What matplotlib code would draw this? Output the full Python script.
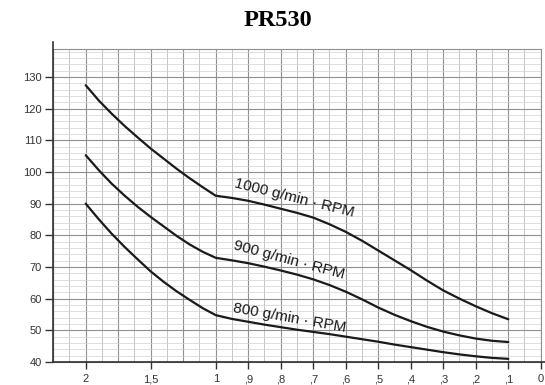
import numpy as np
import matplotlib
matplotlib.use("Agg")
import matplotlib.pyplot as plt
from matplotlib.ticker import MultipleLocator

# ---- data ----
x_vals = [2.0, 1.9, 1.8, 1.7, 1.6, 1.5, 1.4, 1.3, 1.2, 1.1,
          1.0, 0.95, 0.9, 0.85, 0.8, 0.75, 0.7, 0.65, 0.6, 0.55,
          0.5, 0.45, 0.4, 0.35, 0.3, 0.25, 0.2, 0.15, 0.1]
rpm1000 = [127.4, 122.6, 118.4, 114.5, 110.9, 107.4, 104.2, 101.0, 98.0, 95.2,
           92.5, 91.8, 90.9, 89.7, 88.4, 87.1, 85.6, 83.5, 81.1, 78.3,
           75.2, 72.1, 69.0, 65.7, 62.6, 60.0, 57.6, 55.4, 53.5]
rpm900 = [105.3, 100.6, 96.3, 92.5, 89.0, 85.8, 82.8, 79.8, 77.1, 74.8,
          72.9, 72.1, 71.2, 70.1, 68.9, 67.6, 66.1, 64.3, 62.2, 59.8,
          57.2, 54.9, 52.9, 51.1, 49.6, 48.4, 47.4, 46.7, 46.3]
rpm800 = [90.0, 85.1, 80.5, 76.3, 72.4, 68.6, 65.3, 62.3, 59.6, 57.0,
          54.8, 53.6, 52.7, 51.8, 51.0, 50.2, 49.5, 48.8, 48.0, 47.2,
          46.4, 45.5, 44.7, 43.9, 43.1, 42.4, 41.8, 41.3, 41.0]
series_labels = ["1000 g/min · RPM", "900 g/min · RPM", "800 g/min · RPM"]
x_ticks = [2.0, 1.5, 1.0, 0.9, 0.8, 0.7, 0.6, 0.5, 0.4, 0.3, 0.2, 0.1, 0.0]
x_tick_labels = ["2", "1,5", "1", ",9", ",8", ",7", ",6", ",5", ",4", ",3", ",2", ",1", "0"]
y_ticks = [40, 50, 60, 70, 80, 90, 100, 110, 120, 130]
title = "PR530"


def fwd(x):
    x = np.asarray(x, dtype=float)
    return np.where(x <= 1, x, 1 + 0.4 * (x - 1))


def inv(u):
    u = np.asarray(u, dtype=float)
    return np.where(u <= 1, u, 1 + (u - 1) / 0.4)


W, H = 545, 385
fig = plt.figure(figsize=(W / 100, H / 100), dpi=100)

# graph-paper background
gax = fig.add_axes([53 / W, 23 / H, 487.7 / W, 313 / H], zorder=0)
gax.set_xlim(0, 15)
gax.set_ylim(40, 138.8)
gax.xaxis.set_major_locator(MultipleLocator(1))
gax.xaxis.set_minor_locator(MultipleLocator(0.5))
gax.yaxis.set_major_locator(MultipleLocator(10))
gax.yaxis.set_minor_locator(MultipleLocator(2))
gax.grid(which="major", axis="both", color="#909090", lw=0.8)
gax.grid(which="minor", axis="x", color="#bdbdbd", lw=0.6)
gax.grid(which="minor", axis="y", color="#d2d2d2", lw=0.5)
gax.tick_params(which="both", length=0, labelleft=False, labelbottom=False)
for s in gax.spines.values():
    s.set_color("#909090")
    s.set_linewidth(0.8)

# main axes
ax = fig.add_axes([53 / W, 23 / H, 492 / W, 320 / H], zorder=1)
ax.patch.set_alpha(0)
ax.set_xscale("function", functions=(fwd, inv))
ax.set_xlim(2.2516, -0.013)
ax.set_ylim(40, 141.05)

for ys in (rpm1000, rpm900, rpm800):
    ax.plot(x_vals, ys, color="#1a1a1a", lw=1.6, solid_joinstyle="round", solid_capstyle="round")

ax.set_xticks(x_ticks)
ax.set_xticklabels(x_tick_labels)
ax.set_yticks(y_ticks)
ax.minorticks_off()
ax.tick_params(axis="y", length=6, width=1, pad=2, labelsize=8, colors="#333333")
ax.tick_params(axis="x", length=5, width=1, pad=4, labelsize=8, colors="#333333")
for t in ax.get_xticklabels() + ax.get_yticklabels():
    t.set_fontfamily("Liberation Sans")
ax.spines["top"].set_visible(False)
ax.spines["right"].set_visible(False)
ax.spines["left"].set_color("#333333")
ax.spines["bottom"].set_color("#333333")
ax.spines["left"].set_linewidth(1.2)
ax.spines["bottom"].set_linewidth(1.2)

label_pos = [(0.7625, 90.5, -14.0), (0.7775, 71.0, -15.0), (0.7745, 52.7, -10.0)]
for (lx, ly, rot), txt in zip(label_pos, series_labels):
    ax.text(lx, ly, txt, rotation=rot, rotation_mode="anchor", ha="center", va="baseline",
            fontsize=11, family="Liberation Sans", color="#1a1a1a")

fig.text(278 / W, 1 - 20 / H, title, ha="center", va="center", fontsize=17.5,
         fontweight="bold", family="Liberation Serif")

fig.savefig("out.png", dpi=100)
